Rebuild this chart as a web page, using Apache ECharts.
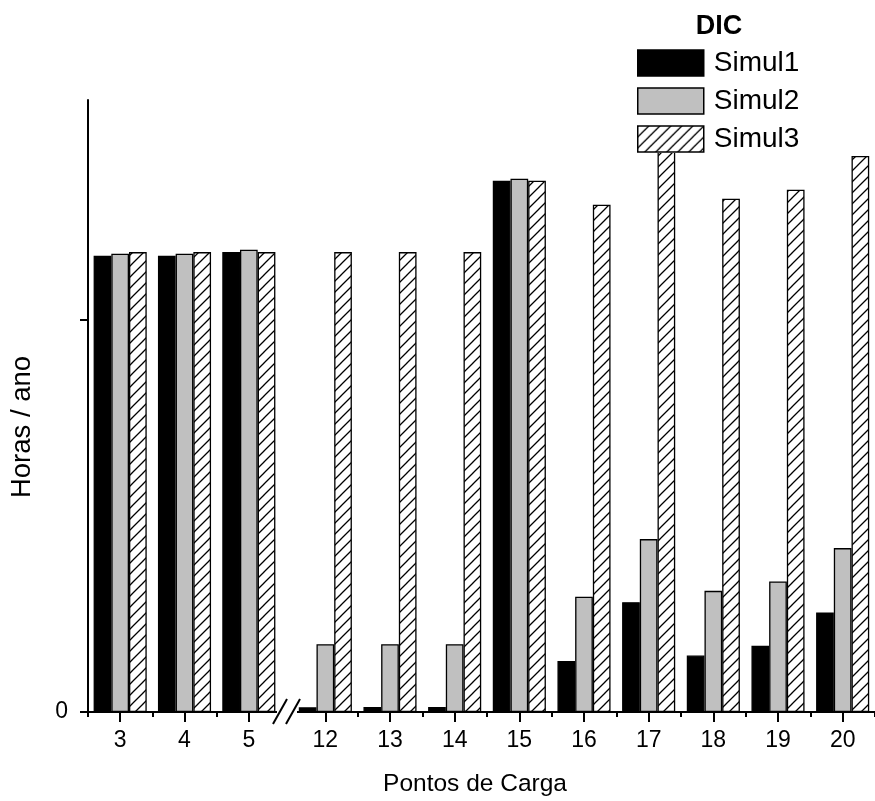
<!DOCTYPE html>
<html>
<head>
<meta charset="utf-8">
<script src="https://cdn.jsdelivr.net/npm/echarts@6/dist/echarts.min.js"></script>
<style>
  html, body { margin: 0; padding: 0; background: #fff; }
  #chart { width: 875px; height: 801px; }
</style>
</head>
<body>
<div id="chart"></div>
<script>
// Load points, split in two groups by the broken axis
const leftCategories = ['3', '4', '5'];
const rightCategories = ['12', '13', '14', '15', '16', '17', '18', '19', '20'];
const seriesNames = ['Simul1', 'Simul2', 'Simul3'];

// Hours per year (axis tick at 10)
const simul1Left = [11.64, 11.64, 11.73];
const simul2Left = [11.69, 11.69, 11.79];
const simul3Left = [11.73, 11.73, 11.73];
const simul1Right = [0.12, 0.13, 0.13, 13.55, 1.30, 2.80, 1.44, 1.69, 2.54];
const simul2Right = [1.73, 1.73, 1.73, 13.60, 2.94, 4.41, 3.09, 3.33, 4.18];
const simul3Right = [11.73, 11.73, 11.73, 13.55, 12.94, 14.52, 13.09, 13.32, 14.18];

const yMax = 15.61;
const yTickValues = [0, 10];
const yLabelValues = [0];

const FONT = 'Arial, "Liberation Sans", sans-serif';

// Diagonal hatch tile for the third series
function hatchTile() {
  const s = 11;
  const c = document.createElement('canvas');
  c.width = s; c.height = s;
  const g = c.getContext('2d');
  g.fillStyle = '#fff';
  g.fillRect(0, 0, s, s);
  g.strokeStyle = '#000';
  g.lineWidth = 1.3;
  g.beginPath();
  g.moveTo(-1, s + 1); g.lineTo(s + 1, -1);
  g.moveTo(-2, 2); g.lineTo(2, -2);
  g.moveTo(s - 2, s + 2); g.lineTo(s + 2, s - 2);
  g.stroke();
  return c;
}

const fills = ['#000000', '#c0c0c0', { image: hatchTile(), repeat: 'repeat' }];

function barSeries(name, idx, data, axisIndex) {
  return {
    name: name,
    type: 'bar',
    xAxisIndex: axisIndex,
    yAxisIndex: axisIndex === 0 ? 0 : 1,
    data: data,
    barWidth: 17.7,
    barGap: '0%',
    itemStyle: { color: fills[idx], borderColor: '#000', borderWidth: 1.3 },
    emphasis: { disabled: true }
  };
}

function categoryAxis(gridIndex, cats, main) {
  return {
    type: 'category',
    gridIndex: gridIndex,
    position: 'bottom',
    offset: 0,
    data: cats,
    boundaryGap: true,
    axisLine: { show: main, lineStyle: { color: '#000', width: 2 } },
    axisTick: main
      ? { show: true, alignWithLabel: true, length: 10, lineStyle: { color: '#000', width: 2 } }
      : { show: true, alignWithLabel: false, length: 5, lineStyle: { color: '#000', width: 2 } },
    axisLabel: main
      ? { show: true, color: '#000', fontSize: 23, fontFamily: FONT, margin: 17 }
      : { show: false },
    splitLine: { show: false }
  };
}

const chart = echarts.init(document.getElementById('chart'), null, { renderer: 'canvas' });

chart.setOption({
  animation: false,
  backgroundColor: '#fff',
  grid: [
    { left: 88, top: 100, width: 193, height: 612 },
    { left: 293, top: 100, width: 592, height: 612 }
  ],
  xAxis: [
    categoryAxis(0, leftCategories, true),
    categoryAxis(1, rightCategories, true),
    categoryAxis(0, leftCategories, false),
    categoryAxis(1, rightCategories, false)
  ],
  yAxis: [
    {
      type: 'value', gridIndex: 0, min: 0, max: yMax,
      axisLine: { show: true, lineStyle: { color: '#000', width: 2 } },
      axisTick: { show: true, length: 8, customValues: yTickValues, lineStyle: { color: '#000', width: 2 } },
      axisLabel: { show: true, customValues: yLabelValues, color: '#000', fontSize: 23, fontFamily: FONT, margin: 20 },
      splitLine: { show: false }
    },
    {
      type: 'value', gridIndex: 1, min: 0, max: yMax, show: false,
      splitLine: { show: false }
    }
  ],
  legend: {
    orient: 'vertical',
    left: 637,
    top: 49,
    padding: 0,
    itemWidth: 66,
    itemHeight: 26,
    itemGap: 10,
    backgroundColor: '#fff',
    icon: 'rect',
    selectedMode: false,
    data: seriesNames,
    itemStyle: { borderColor: '#000', borderWidth: 1.5 },
    textStyle: { color: '#000', fontSize: 28, fontFamily: FONT, padding: [0, 0, 0, 5] }
  },
  series: [
    barSeries(seriesNames[0], 0, simul1Left, 0),
    barSeries(seriesNames[1], 1, simul2Left, 0),
    barSeries(seriesNames[2], 2, simul3Left, 0),
    barSeries(seriesNames[0], 0, simul1Right, 1),
    barSeries(seriesNames[1], 1, simul2Right, 1),
    barSeries(seriesNames[2], 2, simul3Right, 1)
  ],
  graphic: [
    // gap in the horizontal axis with the break symbol
    { type: 'rect', z: 100, shape: { x: 277, y: 707, width: 20, height: 16 }, style: { fill: '#fff' } },
    { type: 'line', z: 101, shape: { x1: 273, y1: 724, x2: 287, y2: 699 }, style: { stroke: '#000', lineWidth: 2 } },
    { type: 'line', z: 101, shape: { x1: 286, y1: 724, x2: 300, y2: 699 }, style: { stroke: '#000', lineWidth: 2 } },
    // legend title
    { type: 'text', z: 101, x: 719, y: 27, style: { text: 'DIC', font: 'bold 27px ' + FONT, fill: '#000', textAlign: 'center', textVerticalAlign: 'middle' } },
    // axis titles
    { type: 'text', z: 101, x: 475, y: 784, style: { text: 'Pontos de Carga', font: '24.5px ' + FONT, fill: '#000', textAlign: 'center', textVerticalAlign: 'middle' } },
    { type: 'text', z: 101, x: 22, y: 427, rotation: Math.PI / 2, style: { text: 'Horas / ano', font: '27.5px ' + FONT, fill: '#000', textAlign: 'center', textVerticalAlign: 'middle' } }
  ]
});
</script>
</body>
</html>
